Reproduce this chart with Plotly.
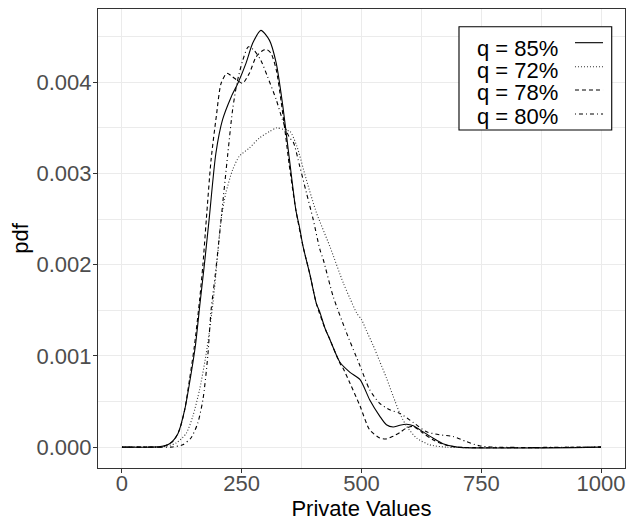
import plotly.graph_objects as go

# ---------------- data ----------------
labels = ["q = 85%", "q = 72%", "q = 78%", "q = 80%"]

x85 = [0, 60, 80, 100, 117, 131, 141, 153, 163, 172, 182, 196, 210, 228, 242, 259, 273, 290,
       308, 322, 335, 349, 363, 371, 378, 392, 406, 413, 424, 434, 455, 476, 497, 517, 538,
       552, 566, 580, 594, 608, 628, 649, 670, 700, 1000]
y85 = [0, 0, 0.000005, 0.00004, 0.00015, 0.00041, 0.0007, 0.0011, 0.00158, 0.0020, 0.0025,
       0.00322, 0.00359, 0.00384, 0.00399, 0.00421, 0.00443, 0.00457, 0.00446, 0.00421, 0.00377,
       0.00318, 0.0026, 0.0024, 0.0022, 0.0019, 0.00157, 0.00148, 0.0013, 0.00118, 0.00093,
       0.00082, 0.00074, 0.00052, 0.00034, 0.000245, 0.00022, 0.00024, 0.00025, 0.000234,
       0.00017, 0.0001, 0.000037, 0, 0]

x72 = [0, 60, 85, 113, 134, 148, 162, 176, 190, 200, 207, 217, 231, 245, 266, 287, 308, 323,
       339, 351, 365, 385, 406, 434, 462, 476, 490, 500, 510, 524, 538, 552, 566, 580, 594,
       615, 642, 677, 1000]
y72 = [0, 0, 0.000003, 0.000044, 0.00015, 0.00034, 0.00063, 0.00103, 0.00158, 0.00212, 0.0025,
       0.00279, 0.00304, 0.00319, 0.00328, 0.00339, 0.00346, 0.0035, 0.00348, 0.00346, 0.0033,
       0.00293, 0.00257, 0.0022, 0.0018, 0.00163, 0.00147, 0.0014, 0.00128, 0.00112, 0.00094,
       0.00076, 0.00056, 0.00037, 0.00023, 0.0001, 0.000026, 0, 0]

x78 = [0, 60, 85, 106, 120, 131, 141, 151, 162, 169, 176, 186, 197, 207, 219, 231, 244, 252,
       266, 280, 294, 302, 311, 322, 332, 342, 349, 363, 378, 392, 406, 424, 434, 455, 462,
       476, 497, 517, 538, 552, 566, 580, 594, 608, 628, 649, 677, 700, 1000]
y78 = [0, 0, 0.000005, 0.00006, 0.00019, 0.00041, 0.00074, 0.0011, 0.00161, 0.002, 0.00249,
       0.00315, 0.00363, 0.00399, 0.0041, 0.00406, 0.00401, 0.00399, 0.0041, 0.00428, 0.00435,
       0.00436, 0.00432, 0.00414, 0.0038, 0.0034, 0.0031, 0.0026, 0.0022, 0.0019, 0.00157,
       0.0013, 0.00118, 0.00092, 0.00086, 0.0007, 0.00045, 0.00019, 0.0001, 0.00009, 0.00012,
       0.00016, 0.00021, 0.000227, 0.000155, 0.00008, 0.00002, 0, 0]

x80 = [0, 80, 106, 127, 144, 158, 169, 179, 186, 195, 207, 221, 231, 240, 252, 264, 276, 290,
       304, 322, 335, 349, 358, 371, 385, 399, 413, 420, 441, 469, 497, 517, 538, 559, 580,
       608, 635, 663, 691, 719, 746, 775, 1000]
y80 = [0, 0, 0.000002, 0.000026, 0.0001, 0.00026, 0.00052, 0.00099, 0.0015, 0.0019, 0.0025,
       0.00322, 0.0037, 0.00399, 0.00424, 0.00439, 0.00435, 0.00424, 0.00406, 0.00381, 0.00359,
       0.0034, 0.00334, 0.00308, 0.00279, 0.0025, 0.00217, 0.00206, 0.00165, 0.00125, 0.00089,
       0.00063, 0.00048, 0.00041, 0.00037, 0.00027, 0.00017, 0.000135, 0.000117, 0.00006,
       0.000015, 0, 0]

xs_all = [x85, x72, x78, x80]
ys_all = [y85, y72, y78, y80]
dashes = ["solid", "1px,2px", "4px,3px", "1px,3px,4px,3px"]
colors = ["#000000", "#333333", "#000000", "#000000"]

x_ticks = [0, 250, 500, 750, 1000]
x_minor = [125, 375, 625, 875]
y_ticks = [0, 0.001, 0.002, 0.003, 0.004]
y_minor = [0.0005, 0.0015, 0.0025, 0.0035, 0.0045]

FONT = "Liberation Sans, Arial, Helvetica, sans-serif"
GRID = "#EBEBEB"

fig = go.Figure()
for xs, ys, d, c, lab in zip(xs_all, ys_all, dashes, colors, labels):
    fig.add_trace(go.Scatter(
        x=xs, y=ys, mode="lines", name=lab, showlegend=False,
        line=dict(color=c, width=1.1, dash=d, shape="spline", smoothing=0.7),
        hoverinfo="skip"))

axis_common = dict(
    showgrid=True, gridcolor=GRID, gridwidth=1.1, zeroline=False,
    showline=True, mirror=True, linecolor="#333333", linewidth=1.1,
    ticks="outside", ticklen=4, tickwidth=1.1, tickcolor="#333333",
    tickfont=dict(family=FONT, size=22, color="#4D4D4D"),
)

fig.update_layout(
    width=626, height=521,
    margin=dict(l=98, r=1, t=9, b=53, autoexpand=False),
    paper_bgcolor="white", plot_bgcolor="white",
    font=dict(family=FONT, size=22, color="black"),
    xaxis=dict(range=[-50, 1050], tickmode="array", tickvals=x_ticks,
               ticktext=[str(v) for v in x_ticks], ticklabelstandoff=-8,
               minor=dict(tickvals=x_minor, showgrid=True, gridcolor=GRID, gridwidth=0.6, ticks=""),
               title=dict(text="Private Values", font=dict(family=FONT, size=22, color="black"),
                          standoff=2),
               **axis_common),
    yaxis=dict(range=[-0.000229, 0.004804], tickmode="array", tickvals=y_ticks,
               ticktext=[f"{v:.3f}" for v in y_ticks], ticklabelstandoff=-3,
               minor=dict(tickvals=y_minor, showgrid=True, gridcolor=GRID, gridwidth=0.6, ticks=""),
               title=dict(text="pdf", font=dict(family=FONT, size=22, color="black"),
                          standoff=1),
               **axis_common),
)

# ---------------- custom legend (keys on the right, as in ggplot) ----------------
fig.add_shape(type="rect", xref="paper", yref="paper",
              x0=0.6850, x1=0.9748, y0=0.7364, y1=0.9614,
              line=dict(color="#000000", width=1.1), fillcolor="white", layer="above")
text_y = [0.9146, 0.8667, 0.8174, 0.7664]
key_y = [0.9266, 0.8743, 0.8235, 0.7712]
for lab, ty, ky, d, c in zip(labels, text_y, key_y, dashes, colors):
    fig.add_annotation(x=0.7154, y=ty, xref="paper", yref="paper", text=lab,
                       showarrow=False, xanchor="left", yanchor="middle",
                       font=dict(family=FONT, size=22, color="black"))
    fig.add_shape(type="line", xref="paper", yref="paper",
                  x0=0.9051, x1=0.9583, y0=ky, y1=ky,
                  line=dict(color=c, width=1.1, dash=d), layer="above")

fig.write_html("out.html", config={"displayModeBar": False},
               post_script="document.body.style.margin='0px';document.body.style.overflow='hidden';")
